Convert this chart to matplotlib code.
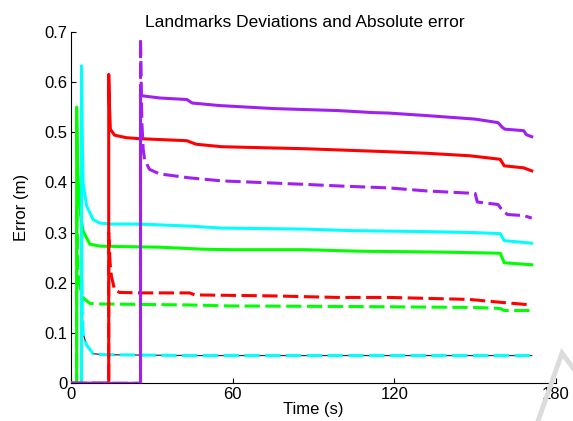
import matplotlib
matplotlib.use("Agg")
import matplotlib.pyplot as plt
from matplotlib.lines import Line2D

plt.rcParams['font.family'] = ['Liberation Sans', 'DejaVu Sans']

# landmark 1 (green)
t_g = [0, 2.1, 2.1, 2.5, 3.0, 3.6, 4.5, 7, 11, 33, 49, 60, 87, 107, 125, 140, 159.3, 160.8, 171]
dev_g = [0, 0, 0.55, 0.42, 0.37, 0.333, 0.303, 0.277, 0.273, 0.271, 0.267, 0.266, 0.266, 0.263, 0.262, 0.261, 0.259, 0.240, 0.236]
t_g2 = [0, 2.1, 2.1, 2.6, 3.9, 7, 10, 44, 59, 102, 150, 159.3, 160.8, 171]
err_g = [0, 0, 0.35, 0.22, 0.173, 0.159, 0.158, 0.156, 0.154, 0.153, 0.151, 0.149, 0.145, 0.145]

# landmark 2 (cyan)
t_c = [0, 3.9, 3.9, 4.2, 4.5, 5.8, 8.2, 10.7, 15, 25.5, 44, 56, 87, 104, 118, 132, 150, 159.3, 160.8, 171]
dev_c = [0, 0, 0.632, 0.48, 0.399, 0.353, 0.326, 0.319, 0.317, 0.317, 0.313, 0.309, 0.307, 0.304, 0.303, 0.302, 0.300, 0.298, 0.284, 0.279]
t_c2 = [0, 3.9, 3.9, 4.2, 4.5, 5.8, 8.2, 12, 44, 171]
err_c = [0, 0, 0.3, 0.14, 0.099, 0.076, 0.059, 0.057, 0.0553, 0.0553]

# landmark 3 (red)
t_r = [0, 14, 14, 14.3, 14.6, 16.2, 20.5, 25.5, 43, 46.4, 56, 87, 118, 132, 148, 159.3, 160.8, 168, 171]
dev_r = [0, 0, 0.615, 0.55, 0.506, 0.494, 0.489, 0.487, 0.483, 0.476, 0.471, 0.467, 0.461, 0.458, 0.453, 0.446, 0.433, 0.429, 0.423]
t_r2 = [0, 14, 14, 14.5, 15, 16.2, 18, 26, 44, 46, 75, 99, 118, 148, 160, 171]
err_r = [0, 0, 0.3, 0.24, 0.213, 0.186, 0.181, 0.180, 0.180, 0.176, 0.174, 0.171, 0.171, 0.167, 0.161, 0.156]

# landmark 4 (purple)
t_p = [0, 25.8, 25.8, 27, 33, 43, 45, 55, 75, 99, 112, 118, 132, 150, 158.5, 160, 161, 168, 169, 171]
dev_p = [0, 0, 0.573, 0.572, 0.568, 0.565, 0.558, 0.553, 0.547, 0.543, 0.539, 0.538, 0.533, 0.526, 0.519, 0.510, 0.506, 0.503, 0.495, 0.491]
t_p2 = [0, 25.8, 25.8, 26.3, 26.8, 27.3, 29.1, 32.8, 44, 56, 87, 99, 118, 132, 150, 150.8, 158.5, 160, 162, 168, 171]
err_p = [0, 0, 0.686, 0.52, 0.466, 0.446, 0.426, 0.417, 0.409, 0.403, 0.396, 0.393, 0.389, 0.383, 0.378, 0.361, 0.356, 0.345, 0.336, 0.334, 0.329]

xticks = [0, 60, 120, 180]
yticks = [0, 0.1, 0.2, 0.3, 0.4, 0.5, 0.6, 0.7]
ytick_labels = ['0', '0.1', '0.2', '0.3', '0.4', '0.5', '0.6', '0.7']

GREEN, CYAN, RED, PURPLE = '#00ff00', '#00ffff', '#ff0000', '#a020f0'
LW = 2.2
DASH = (5, 1.8)

fig = plt.figure(figsize=(5.73, 4.21), dpi=100)
ax = fig.add_axes([0.1239, 0.0895, 0.8464, 0.8352])

for t_dev, dev, t_err, err, col in [(t_g, dev_g, t_g2, err_g, GREEN),
                                    (t_c, dev_c, t_c2, err_c, CYAN),
                                    (t_r, dev_r, t_r2, err_r, RED),
                                    (t_p, dev_p, t_p2, err_p, PURPLE)]:
    if col == CYAN:
        # absolute error trace runs underneath the cyan dashes
        ax.plot(t_err, err, color='#333333', lw=0.9, zorder=2)
    ax.plot(t_err, err, color=col, lw=LW, dashes=DASH, zorder=3)
    ax.plot(t_dev, dev, color=col, lw=LW, zorder=3)

ax.set_xlim(0, 180)
ax.set_ylim(0, 0.7)
ax.set_xticks(xticks)
ax.set_xticklabels([str(x) for x in xticks])
ax.set_yticks(yticks)
ax.set_yticklabels(ytick_labels)
ax.spines['top'].set_visible(False)
ax.spines['right'].set_visible(False)
for s in ('left', 'bottom'):
    ax.spines[s].set_linewidth(0.8)
ax.tick_params(direction='in', length=3.5, width=0.8, labelsize=12, pad=2.5)

title = ax.set_title('Landmarks Deviations and Absolute error', fontsize=12.5, pad=3.5)
title.set_x(0.482)
ax.set_xlabel('Time (s)', fontsize=12, labelpad=0)
ax.set_ylabel('Error (m)', fontsize=12, labelpad=11)

# faint mark in the lower right corner
fig.add_artist(Line2D([538 / 573, 562 / 573, 573 / 573], [1 - 421 / 421, 1 - 353 / 421, 1 - 368 / 421],
                      transform=fig.transFigure, color='#dcdcdc', lw=3.5, solid_joinstyle='miter'))

fig.savefig('out.png', dpi=100)
